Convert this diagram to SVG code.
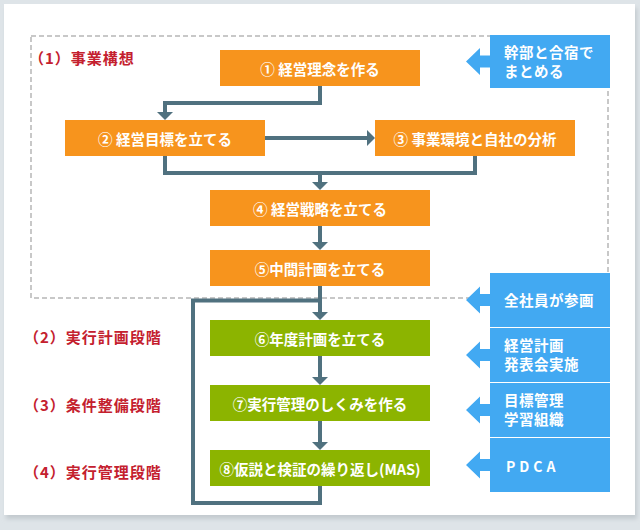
<svg xmlns="http://www.w3.org/2000/svg" width="640" height="530" viewBox="0 0 640 530">
<style>
text{font-family:"Noto Sans CJK JP","Noto Sans",sans-serif;font-weight:bold}
.o{fill:#f7941d}
.g{fill:#8cb400}
.b{fill:#42a9f2}
.bt{fill:#fff;font-size:14.5px;letter-spacing:0.5px}
.nt{fill:#fff;font-size:14.5px;text-anchor:middle;dominant-baseline:central}
.rl{fill:#c4202e;font-size:15px;letter-spacing:1px;dominant-baseline:central}
.ln{fill:none;stroke:#50717f;stroke-width:4}
</style>
<defs>
<filter id="sh" x="-5%" y="-5%" width="110%" height="110%"><feGaussianBlur stdDeviation="2"/></filter>
<marker id="ah" markerUnits="userSpaceOnUse" markerWidth="8" markerHeight="16" viewBox="0 0 8 16" refX="0" refY="8" orient="auto"><path d="M0,0 L8,8 L0,16 Z" fill="#50717f"/></marker>
<path id="ba" d="M0,0 L14,-13.5 L14,-6 L24,-6 L24,6 L14,6 L14,13.5 Z" fill="#42a9f2"/>
</defs>
<rect x="0" y="0" width="640" height="530" fill="#dee4e8"/>
<rect x="6" y="8" width="631" height="511" fill="#c3cacf" filter="url(#sh)"/>
<rect x="4" y="4" width="631" height="511" fill="#fff"/>
<rect x="31" y="36" width="577" height="262" fill="none" stroke="#c8c8c8" stroke-width="2" stroke-dasharray="5 3"/>

<g id="labels">
<text class="rl" x="29" y="57">（1）事業構想</text>
<text class="rl" x="24" y="336">（2）実行計画段階</text>
<text class="rl" x="24" y="404">（3）条件整備段階</text>
<text class="rl" x="24" y="471">（4）実行管理段階</text>
</g>

<g id="connectors">
<path class="ln" d="M320,86 V103 H165 V112" marker-end="url(#ah)"/>
<path class="ln" d="M265,138 H367" marker-end="url(#ah)"/>
<path class="ln" d="M165,156 V173 H475 V156"/>
<path class="ln" d="M320,173 V182" marker-end="url(#ah)"/>
<path class="ln" d="M320,226 V242" marker-end="url(#ah)"/>
<path class="ln" d="M320,286 V312" marker-end="url(#ah)"/>
<path class="ln" d="M320,356 V377" marker-end="url(#ah)"/>
<path class="ln" d="M320,421 V442" marker-end="url(#ah)"/>
<path class="ln" d="M320,486 V503 H193 V300.5 H320"/>
<use href="#ba" x="466" y="61.5"/>
<use href="#ba" x="466" y="300"/>
<use href="#ba" x="466" y="355"/>
<use href="#ba" x="466" y="410"/>
<use href="#ba" x="466" y="465"/>
</g>

<g id="n1"><rect class="o" x="220" y="50" width="200" height="36"/><text class="nt" x="320" y="68">① 経営理念を作る</text></g>
<g id="n2"><rect class="o" x="65" y="120" width="200" height="36"/><text class="nt" x="165" y="138">② 経営目標を立てる</text></g>
<g id="n3"><rect class="o" x="375" y="120" width="200" height="36"/><text class="nt" x="475" y="138">③ 事業環境と自社の分析</text></g>
<g id="n4"><rect class="o" x="210" y="190" width="220" height="36"/><text class="nt" x="320" y="208">④ 経営戦略を立てる</text></g>
<g id="n5"><rect class="o" x="210" y="250" width="220" height="36"/><text class="nt" x="320" y="268">⑤中間計画を立てる</text></g>
<g id="n6"><rect class="g" x="210" y="320" width="220" height="36"/><text class="nt" x="320" y="338">⑥年度計画を立てる</text></g>
<g id="n7"><rect class="g" x="210" y="385" width="220" height="36"/><text class="nt" x="320" y="403">⑦実行管理のしくみを作る</text></g>
<g id="n8"><rect class="g" x="210" y="450" width="220" height="36"/><text class="nt" x="320" y="468">⑧仮説と検証の繰り返し(MAS)</text></g>

<g id="bA"><rect class="b" x="490" y="35" width="120" height="53"/><text class="bt" x="504" y="58">幹部と合宿で</text><text class="bt" x="504" y="77">まとめる</text></g>
<g id="bB"><rect class="b" x="490" y="273" width="120" height="54"/><text class="bt" x="504" y="306">全社員が参画</text></g>
<g id="bC"><rect class="b" x="490" y="328" width="120" height="54"/><text class="bt" x="504" y="351">経営計画</text><text class="bt" x="504" y="370">発表会実施</text></g>
<g id="bD"><rect class="b" x="490" y="383" width="120" height="54"/><text class="bt" x="504" y="406">目標管理</text><text class="bt" x="504" y="425">学習組織</text></g>
<g id="bE"><rect class="b" x="490" y="438" width="120" height="54"/><text class="bt" x="506" y="472" style="letter-spacing:4px;font-size:14px">PDCA</text></g>
</svg>
